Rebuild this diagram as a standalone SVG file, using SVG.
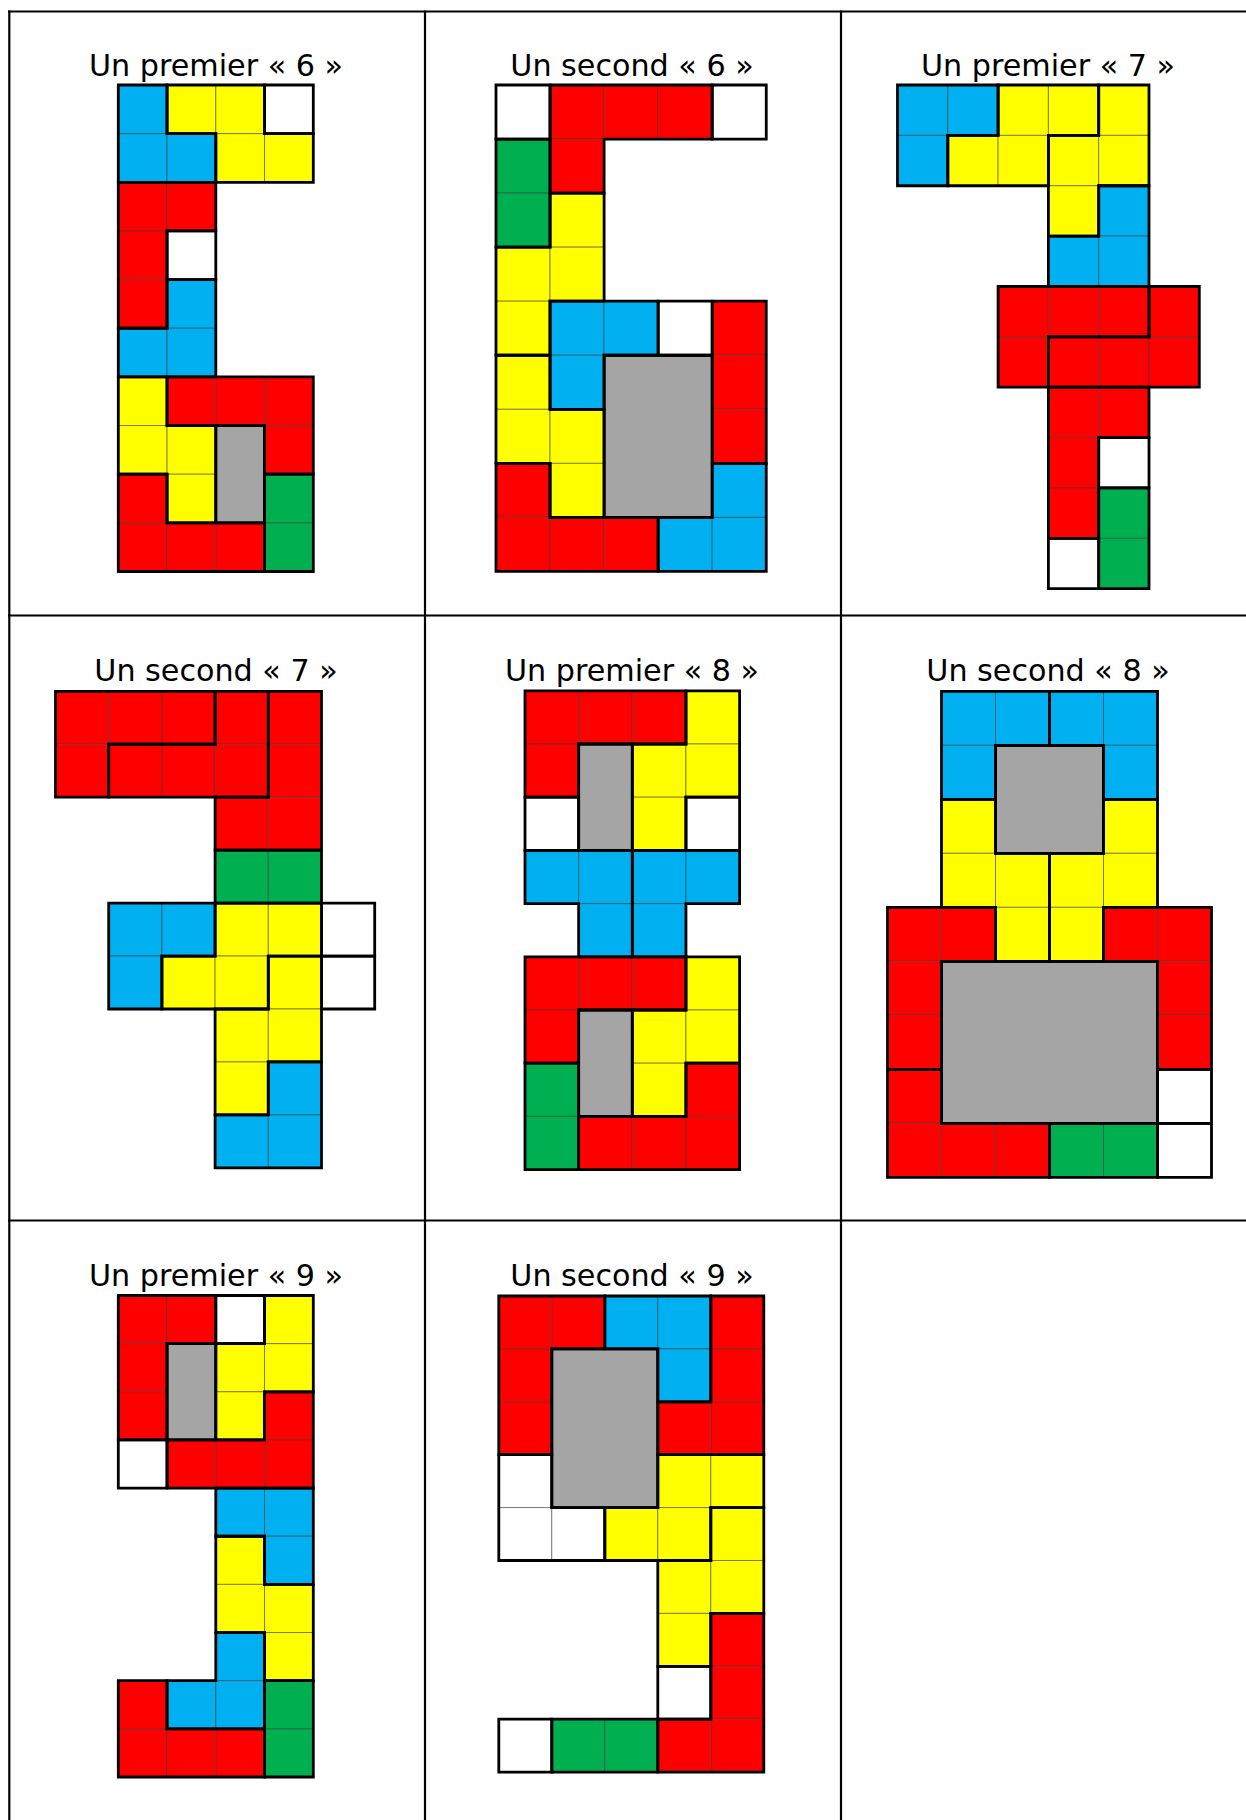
<svg xmlns="http://www.w3.org/2000/svg" xmlns:xlink="http://www.w3.org/1999/xlink" width="1246" height="1820" viewBox="0 0 1246 1820">
<style>
.t{font-family:"DejaVu Sans",Verdana,sans-serif;font-size:30.2px;fill:#000;text-anchor:middle}
.r{fill:#FF0000}.y{fill:#FFFF00}.b{fill:#00B0F0}.g{fill:#00B050}.w{fill:#FFFFFF}.k{fill:#A5A5A5}
use,.cell{stroke:#3a3a3a;stroke-opacity:0.55;stroke-width:1}
.p{fill:none;stroke:#000;stroke-width:2.8;stroke-linejoin:miter}
.grid line{stroke:#000;stroke-width:2.2}
</style>
<defs>
<rect id="u" width="1" height="1" vector-effect="non-scaling-stroke"/>
</defs>
<rect width="1246" height="1820" fill="#fff"/>
<g class="grid" id="table">
<line x1="8" y1="11.5" x2="1246" y2="11.5"/>
<line x1="8" y1="615.5" x2="1246" y2="615.5"/>
<line x1="8" y1="1220.5" x2="1246" y2="1220.5"/>
<line x1="9.3" y1="10.5" x2="9.3" y2="1820"/>
<line x1="425" y1="10.5" x2="425" y2="1820"/>
<line x1="841" y1="10.5" x2="841" y2="1820"/>
</g>

<g id="p6a">
<text class="t" x="216" y="76">Un premier « 6 »</text>
<g transform="translate(118.3 85) scale(48.75 48.65)">
<use href="#u" class="b" x="0" y="0"/><use href="#u" class="b" x="0" y="1"/><use href="#u" class="b" x="1" y="1"/><use href="#u" class="b" x="1" y="4"/><use href="#u" class="b" x="0" y="5"/><use href="#u" class="b" x="1" y="5"/>
<use href="#u" class="y" x="1" y="0"/><use href="#u" class="y" x="2" y="0"/><use href="#u" class="y" x="2" y="1"/><use href="#u" class="y" x="3" y="1"/><use href="#u" class="y" x="0" y="6"/><use href="#u" class="y" x="0" y="7"/><use href="#u" class="y" x="1" y="7"/><use href="#u" class="y" x="1" y="8"/>
<use href="#u" class="w" x="3" y="0"/><use href="#u" class="w" x="1" y="3"/>
<use href="#u" class="r" x="0" y="2"/><use href="#u" class="r" x="1" y="2"/><use href="#u" class="r" x="0" y="3"/><use href="#u" class="r" x="0" y="4"/><use href="#u" class="r" x="1" y="6"/><use href="#u" class="r" x="2" y="6"/><use href="#u" class="r" x="3" y="6"/><use href="#u" class="r" x="3" y="7"/><use href="#u" class="r" x="0" y="8"/><use href="#u" class="r" x="0" y="9"/><use href="#u" class="r" x="1" y="9"/><use href="#u" class="r" x="2" y="9"/>
<use href="#u" class="g" x="3" y="8"/><use href="#u" class="g" x="3" y="9"/>
<rect class="k" x="2" y="7" width="1" height="2"/>
<g class="p">
<path vector-effect="non-scaling-stroke" d="M0,0H1V1H2V2H0Z"/>
<path vector-effect="non-scaling-stroke" d="M1,0H3V1H4V2H2V1H1Z"/>
<path vector-effect="non-scaling-stroke" d="M3,0H4V1H3Z"/>
<path vector-effect="non-scaling-stroke" d="M0,2H2V3H1V5H0Z"/>
<path vector-effect="non-scaling-stroke" d="M1,3H2V4H1Z"/>
<path vector-effect="non-scaling-stroke" d="M1,4H2V6H0V5H1Z"/>
<path vector-effect="non-scaling-stroke" d="M0,6H1V7H2V9H1V8H0Z"/>
<path vector-effect="non-scaling-stroke" d="M1,6H4V8H3V7H1Z"/>
<path vector-effect="non-scaling-stroke" d="M2,7H3V9H2Z"/>
<path vector-effect="non-scaling-stroke" d="M3,8H4V10H3Z"/>
<path vector-effect="non-scaling-stroke" d="M0,8H1V9H3V10H0Z"/>
</g>
</g>
</g>

<g id="p6b">
<text class="t" x="632" y="76">Un second « 6 »</text>
<g transform="translate(496 85) scale(54.05 54.05)">
<use href="#u" class="w" x="0" y="0"/><use href="#u" class="w" x="4" y="0"/><use href="#u" class="w" x="3" y="4"/>
<use href="#u" class="r" x="1" y="0"/><use href="#u" class="r" x="2" y="0"/><use href="#u" class="r" x="3" y="0"/><use href="#u" class="r" x="1" y="1"/><use href="#u" class="r" x="4" y="4"/><use href="#u" class="r" x="4" y="5"/><use href="#u" class="r" x="4" y="6"/><use href="#u" class="r" x="0" y="7"/><use href="#u" class="r" x="0" y="8"/><use href="#u" class="r" x="1" y="8"/><use href="#u" class="r" x="2" y="8"/>
<use href="#u" class="g" x="0" y="1"/><use href="#u" class="g" x="0" y="2"/>
<use href="#u" class="y" x="1" y="2"/><use href="#u" class="y" x="0" y="3"/><use href="#u" class="y" x="1" y="3"/><use href="#u" class="y" x="0" y="4"/><use href="#u" class="y" x="0" y="5"/><use href="#u" class="y" x="0" y="6"/><use href="#u" class="y" x="1" y="6"/><use href="#u" class="y" x="1" y="7"/>
<use href="#u" class="b" x="1" y="4"/><use href="#u" class="b" x="2" y="4"/><use href="#u" class="b" x="1" y="5"/><use href="#u" class="b" x="4" y="7"/><use href="#u" class="b" x="3" y="8"/><use href="#u" class="b" x="4" y="8"/>
<rect class="k" x="2" y="5" width="2" height="3"/>
<g class="p">
<path vector-effect="non-scaling-stroke" d="M0,0H1V1H0Z"/>
<path vector-effect="non-scaling-stroke" d="M4,0H5V1H4Z"/>
<path vector-effect="non-scaling-stroke" d="M3,4H4V5H3Z"/>
<path vector-effect="non-scaling-stroke" d="M1,0H4V1H2V2H1Z"/>
<path vector-effect="non-scaling-stroke" d="M0,1H1V3H0Z"/>
<path vector-effect="non-scaling-stroke" d="M1,2H2V4H1V5H0V3H1Z"/>
<path vector-effect="non-scaling-stroke" d="M0,5H1V6H2V8H1V7H0Z"/>
<path vector-effect="non-scaling-stroke" d="M1,4H3V5H2V6H1Z"/>
<path vector-effect="non-scaling-stroke" d="M4,4H5V7H4Z"/>
<path vector-effect="non-scaling-stroke" d="M2,5H4V8H2Z"/>
<path vector-effect="non-scaling-stroke" d="M4,7H5V9H3V8H4Z"/>
<path vector-effect="non-scaling-stroke" d="M0,7H1V8H3V9H0Z"/>
</g>
</g>
</g>

<g id="p7a">
<text class="t" x="1048" y="76">Un premier « 7 »</text>
<g transform="translate(897.5 85) scale(50.3 50.37)">
<use href="#u" class="b" x="0" y="0"/><use href="#u" class="b" x="1" y="0"/><use href="#u" class="b" x="0" y="1"/><use href="#u" class="b" x="4" y="2"/><use href="#u" class="b" x="3" y="3"/><use href="#u" class="b" x="4" y="3"/>
<use href="#u" class="y" x="2" y="0"/><use href="#u" class="y" x="3" y="0"/><use href="#u" class="y" x="4" y="0"/><use href="#u" class="y" x="1" y="1"/><use href="#u" class="y" x="2" y="1"/><use href="#u" class="y" x="3" y="1"/><use href="#u" class="y" x="4" y="1"/><use href="#u" class="y" x="3" y="2"/>
<use href="#u" class="r" x="2" y="4"/><use href="#u" class="r" x="3" y="4"/><use href="#u" class="r" x="4" y="4"/><use href="#u" class="r" x="5" y="4"/><use href="#u" class="r" x="2" y="5"/><use href="#u" class="r" x="3" y="5"/><use href="#u" class="r" x="4" y="5"/><use href="#u" class="r" x="5" y="5"/><use href="#u" class="r" x="3" y="6"/><use href="#u" class="r" x="4" y="6"/><use href="#u" class="r" x="3" y="7"/><use href="#u" class="r" x="3" y="8"/>
<use href="#u" class="w" x="4" y="7"/><use href="#u" class="w" x="3" y="9"/>
<use href="#u" class="g" x="4" y="8"/><use href="#u" class="g" x="4" y="9"/>
<g class="p">
<path vector-effect="non-scaling-stroke" d="M0,0H2V1H1V2H0Z"/>
<path vector-effect="non-scaling-stroke" d="M2,0H4V1H3V2H1V1H2Z"/>
<path vector-effect="non-scaling-stroke" d="M4,0H5V2H4V3H3V1H4Z"/>
<path vector-effect="non-scaling-stroke" d="M4,2H5V4H3V3H4Z"/>
<path vector-effect="non-scaling-stroke" d="M2,4H5V5H3V6H2Z"/>
<path vector-effect="non-scaling-stroke" d="M5,4H6V6H3V5H5Z"/>
<path vector-effect="non-scaling-stroke" d="M3,6H5V7H4V9H3Z"/>
<path vector-effect="non-scaling-stroke" d="M4,7H5V8H4Z"/>
<path vector-effect="non-scaling-stroke" d="M3,9H4V10H3Z"/>
<path vector-effect="non-scaling-stroke" d="M4,8H5V10H4Z"/>
</g>
</g>
</g>

<g id="p7b">
<text class="t" x="216" y="681">Un second « 7 »</text>
<g transform="translate(55.5 691.3) scale(53.2 52.95)">
<use href="#u" class="r" x="0" y="0"/><use href="#u" class="r" x="1" y="0"/><use href="#u" class="r" x="2" y="0"/><use href="#u" class="r" x="3" y="0"/><use href="#u" class="r" x="4" y="0"/><use href="#u" class="r" x="0" y="1"/><use href="#u" class="r" x="1" y="1"/><use href="#u" class="r" x="2" y="1"/><use href="#u" class="r" x="3" y="1"/><use href="#u" class="r" x="4" y="1"/><use href="#u" class="r" x="3" y="2"/><use href="#u" class="r" x="4" y="2"/>
<use href="#u" class="g" x="3" y="3"/><use href="#u" class="g" x="4" y="3"/>
<use href="#u" class="b" x="1" y="4"/><use href="#u" class="b" x="2" y="4"/><use href="#u" class="b" x="1" y="5"/><use href="#u" class="b" x="4" y="7"/><use href="#u" class="b" x="3" y="8"/><use href="#u" class="b" x="4" y="8"/>
<use href="#u" class="y" x="3" y="4"/><use href="#u" class="y" x="4" y="4"/><use href="#u" class="y" x="2" y="5"/><use href="#u" class="y" x="3" y="5"/><use href="#u" class="y" x="4" y="5"/><use href="#u" class="y" x="3" y="6"/><use href="#u" class="y" x="4" y="6"/><use href="#u" class="y" x="3" y="7"/>
<use href="#u" class="w" x="5" y="4"/><use href="#u" class="w" x="5" y="5"/>
<g class="p">
<path vector-effect="non-scaling-stroke" d="M0,0H3V1H1V2H0Z"/>
<path vector-effect="non-scaling-stroke" d="M3,0H4V2H1V1H3Z"/>
<path vector-effect="non-scaling-stroke" d="M4,0H5V3H3V2H4Z"/>
<path vector-effect="non-scaling-stroke" d="M3,3H5V4H3Z"/>
<path vector-effect="non-scaling-stroke" d="M1,4H3V5H2V6H1Z"/>
<path vector-effect="non-scaling-stroke" d="M3,4H5V5H4V6H2V5H3Z"/>
<path vector-effect="non-scaling-stroke" d="M4,5H5V7H4V8H3V6H4Z"/>
<path vector-effect="non-scaling-stroke" d="M4,7H5V9H3V8H4Z"/>
<path vector-effect="non-scaling-stroke" d="M5,4H6V5H5Z"/>
<path vector-effect="non-scaling-stroke" d="M5,5H6V6H5Z"/>
</g>
</g>
</g>

<g id="p8a">
<text class="t" x="632" y="681">Un premier « 8 »</text>
<g transform="translate(525 690.8) scale(53.65 53.2)">
<use href="#u" class="r" x="0" y="0"/><use href="#u" class="r" x="1" y="0"/><use href="#u" class="r" x="2" y="0"/><use href="#u" class="r" x="0" y="1"/><use href="#u" class="r" x="0" y="5"/><use href="#u" class="r" x="1" y="5"/><use href="#u" class="r" x="2" y="5"/><use href="#u" class="r" x="0" y="6"/><use href="#u" class="r" x="3" y="7"/><use href="#u" class="r" x="1" y="8"/><use href="#u" class="r" x="2" y="8"/><use href="#u" class="r" x="3" y="8"/>
<use href="#u" class="y" x="3" y="0"/><use href="#u" class="y" x="2" y="1"/><use href="#u" class="y" x="3" y="1"/><use href="#u" class="y" x="2" y="2"/><use href="#u" class="y" x="3" y="5"/><use href="#u" class="y" x="2" y="6"/><use href="#u" class="y" x="3" y="6"/><use href="#u" class="y" x="2" y="7"/>
<use href="#u" class="w" x="0" y="2"/><use href="#u" class="w" x="3" y="2"/>
<use href="#u" class="b" x="0" y="3"/><use href="#u" class="b" x="1" y="3"/><use href="#u" class="b" x="2" y="3"/><use href="#u" class="b" x="3" y="3"/><use href="#u" class="b" x="1" y="4"/><use href="#u" class="b" x="2" y="4"/>
<use href="#u" class="g" x="0" y="7"/><use href="#u" class="g" x="0" y="8"/>
<rect class="k" x="1" y="1" width="1" height="2"/>
<rect class="k" x="1" y="6" width="1" height="2"/>
<g class="p">
<path vector-effect="non-scaling-stroke" d="M0,0H3V1H1V2H0Z"/>
<path vector-effect="non-scaling-stroke" d="M3,0H4V2H3V3H2V1H3Z"/>
<path vector-effect="non-scaling-stroke" d="M1,1H2V3H1Z"/>
<path vector-effect="non-scaling-stroke" d="M0,2H1V3H0Z"/>
<path vector-effect="non-scaling-stroke" d="M3,2H4V3H3Z"/>
<path vector-effect="non-scaling-stroke" d="M0,3H2V5H1V4H0Z"/>
<path vector-effect="non-scaling-stroke" d="M2,3H4V4H3V5H2Z"/>
<path vector-effect="non-scaling-stroke" d="M0,5H3V6H1V7H0Z"/>
<path vector-effect="non-scaling-stroke" d="M3,5H4V7H3V8H2V6H3Z"/>
<path vector-effect="non-scaling-stroke" d="M1,6H2V8H1Z"/>
<path vector-effect="non-scaling-stroke" d="M0,7H1V9H0Z"/>
<path vector-effect="non-scaling-stroke" d="M3,7H4V9H1V8H3Z"/>
</g>
</g>
</g>

<g id="p8b">
<text class="t" x="1048" y="681">Un second « 8 »</text>
<g transform="translate(887.5 691.3) scale(54 54)">
<use href="#u" class="b" x="1" y="0"/><use href="#u" class="b" x="2" y="0"/><use href="#u" class="b" x="3" y="0"/><use href="#u" class="b" x="4" y="0"/><use href="#u" class="b" x="1" y="1"/><use href="#u" class="b" x="4" y="1"/>
<use href="#u" class="y" x="1" y="2"/><use href="#u" class="y" x="4" y="2"/><use href="#u" class="y" x="1" y="3"/><use href="#u" class="y" x="2" y="3"/><use href="#u" class="y" x="3" y="3"/><use href="#u" class="y" x="4" y="3"/><use href="#u" class="y" x="2" y="4"/><use href="#u" class="y" x="3" y="4"/>
<use href="#u" class="r" x="0" y="4"/><use href="#u" class="r" x="1" y="4"/><use href="#u" class="r" x="4" y="4"/><use href="#u" class="r" x="5" y="4"/><use href="#u" class="r" x="0" y="5"/><use href="#u" class="r" x="0" y="6"/><use href="#u" class="r" x="0" y="7"/><use href="#u" class="r" x="5" y="5"/><use href="#u" class="r" x="5" y="6"/><use href="#u" class="r" x="0" y="8"/><use href="#u" class="r" x="1" y="8"/><use href="#u" class="r" x="2" y="8"/>
<use href="#u" class="g" x="3" y="8"/><use href="#u" class="g" x="4" y="8"/>
<use href="#u" class="w" x="5" y="7"/><use href="#u" class="w" x="5" y="8"/>
<rect class="k" x="2" y="1" width="2" height="2"/>
<rect class="k" x="1" y="5" width="4" height="3"/>
<g class="p">
<path vector-effect="non-scaling-stroke" d="M1,0H3V1H2V2H1Z"/>
<path vector-effect="non-scaling-stroke" d="M3,0H5V2H4V1H3Z"/>
<path vector-effect="non-scaling-stroke" d="M2,1H4V3H2Z"/>
<path vector-effect="non-scaling-stroke" d="M1,2H2V3H3V5H2V4H1Z"/>
<path vector-effect="non-scaling-stroke" d="M4,2H5V4H4V5H3V3H4Z"/>
<path vector-effect="non-scaling-stroke" d="M0,4H2V5H1V7H0Z"/>
<path vector-effect="non-scaling-stroke" d="M0,7H1V8H3V9H0Z"/>
<path vector-effect="non-scaling-stroke" d="M4,4H6V7H5V5H4Z"/>
<path vector-effect="non-scaling-stroke" d="M1,5H5V8H1Z"/>
<path vector-effect="non-scaling-stroke" d="M3,8H5V9H3Z"/>
<path vector-effect="non-scaling-stroke" d="M5,7H6V8H5Z"/>
<path vector-effect="non-scaling-stroke" d="M5,8H6V9H5Z"/>
</g>
</g>
</g>

<g id="p9a">
<text class="t" x="216" y="1286">Un premier « 9 »</text>
<g transform="translate(118.3 1295.5) scale(48.75 48.15)">
<use href="#u" class="r" x="0" y="0"/><use href="#u" class="r" x="1" y="0"/><use href="#u" class="r" x="0" y="1"/><use href="#u" class="r" x="0" y="2"/><use href="#u" class="r" x="3" y="2"/><use href="#u" class="r" x="1" y="3"/><use href="#u" class="r" x="2" y="3"/><use href="#u" class="r" x="3" y="3"/><use href="#u" class="r" x="0" y="8"/><use href="#u" class="r" x="0" y="9"/><use href="#u" class="r" x="1" y="9"/><use href="#u" class="r" x="2" y="9"/>
<use href="#u" class="w" x="2" y="0"/><use href="#u" class="w" x="0" y="3"/>
<use href="#u" class="y" x="3" y="0"/><use href="#u" class="y" x="2" y="1"/><use href="#u" class="y" x="3" y="1"/><use href="#u" class="y" x="2" y="2"/><use href="#u" class="y" x="2" y="5"/><use href="#u" class="y" x="2" y="6"/><use href="#u" class="y" x="3" y="6"/><use href="#u" class="y" x="3" y="7"/>
<use href="#u" class="b" x="2" y="4"/><use href="#u" class="b" x="3" y="4"/><use href="#u" class="b" x="3" y="5"/><use href="#u" class="b" x="2" y="7"/><use href="#u" class="b" x="1" y="8"/><use href="#u" class="b" x="2" y="8"/>
<use href="#u" class="g" x="3" y="8"/><use href="#u" class="g" x="3" y="9"/>
<rect class="k" x="1" y="1" width="1" height="2"/>
<g class="p">
<path vector-effect="non-scaling-stroke" d="M0,0H2V1H1V3H0Z"/>
<path vector-effect="non-scaling-stroke" d="M2,0H3V1H2Z"/>
<path vector-effect="non-scaling-stroke" d="M0,3H1V4H0Z"/>
<path vector-effect="non-scaling-stroke" d="M3,0H4V2H3V3H2V1H3Z"/>
<path vector-effect="non-scaling-stroke" d="M1,1H2V3H1Z"/>
<path vector-effect="non-scaling-stroke" d="M3,2H4V4H1V3H3Z"/>
<path vector-effect="non-scaling-stroke" d="M2,4H4V6H3V5H2Z"/>
<path vector-effect="non-scaling-stroke" d="M2,5H3V6H4V8H3V7H2Z"/>
<path vector-effect="non-scaling-stroke" d="M2,7H3V9H1V8H2Z"/>
<path vector-effect="non-scaling-stroke" d="M3,8H4V10H3Z"/>
<path vector-effect="non-scaling-stroke" d="M0,8H1V9H3V10H0Z"/>
</g>
</g>
</g>

<g id="p9b">
<text class="t" x="632" y="1286">Un second « 9 »</text>
<g transform="translate(498.8 1296) scale(53 52.9)">
<use href="#u" class="r" x="0" y="0"/><use href="#u" class="r" x="1" y="0"/><use href="#u" class="r" x="0" y="1"/><use href="#u" class="r" x="0" y="2"/><use href="#u" class="r" x="4" y="0"/><use href="#u" class="r" x="4" y="1"/><use href="#u" class="r" x="4" y="2"/><use href="#u" class="r" x="3" y="2"/><use href="#u" class="r" x="4" y="6"/><use href="#u" class="r" x="4" y="7"/><use href="#u" class="r" x="4" y="8"/><use href="#u" class="r" x="3" y="8"/>
<use href="#u" class="b" x="2" y="0"/><use href="#u" class="b" x="3" y="0"/><use href="#u" class="b" x="3" y="1"/>
<use href="#u" class="w" x="0" y="3"/><use href="#u" class="w" x="0" y="4"/><use href="#u" class="w" x="1" y="4"/><use href="#u" class="w" x="3" y="7"/><use href="#u" class="w" x="0" y="8"/>
<use href="#u" class="y" x="3" y="3"/><use href="#u" class="y" x="4" y="3"/><use href="#u" class="y" x="2" y="4"/><use href="#u" class="y" x="3" y="4"/><use href="#u" class="y" x="4" y="4"/><use href="#u" class="y" x="3" y="5"/><use href="#u" class="y" x="4" y="5"/><use href="#u" class="y" x="3" y="6"/>
<use href="#u" class="g" x="1" y="8"/><use href="#u" class="g" x="2" y="8"/>
<rect class="k" x="1" y="1" width="2" height="3"/>
<g class="p">
<path vector-effect="non-scaling-stroke" d="M0,0H2V1H1V3H0Z"/>
<path vector-effect="non-scaling-stroke" d="M2,0H4V2H3V1H2Z"/>
<path vector-effect="non-scaling-stroke" d="M4,0H5V3H3V2H4Z"/>
<path vector-effect="non-scaling-stroke" d="M1,1H3V4H1Z"/>
<path vector-effect="non-scaling-stroke" d="M0,3H1V4H2V5H0Z"/>
<path vector-effect="non-scaling-stroke" d="M3,3H5V4H4V5H2V4H3Z"/>
<path vector-effect="non-scaling-stroke" d="M4,4H5V6H4V7H3V5H4Z"/>
<path vector-effect="non-scaling-stroke" d="M3,7H4V8H3Z"/>
<path vector-effect="non-scaling-stroke" d="M4,6H5V9H3V8H4Z"/>
<path vector-effect="non-scaling-stroke" d="M0,8H1V9H0Z"/>
<path vector-effect="non-scaling-stroke" d="M1,8H3V9H1Z"/>
</g>
</g>
</g>
</svg>
